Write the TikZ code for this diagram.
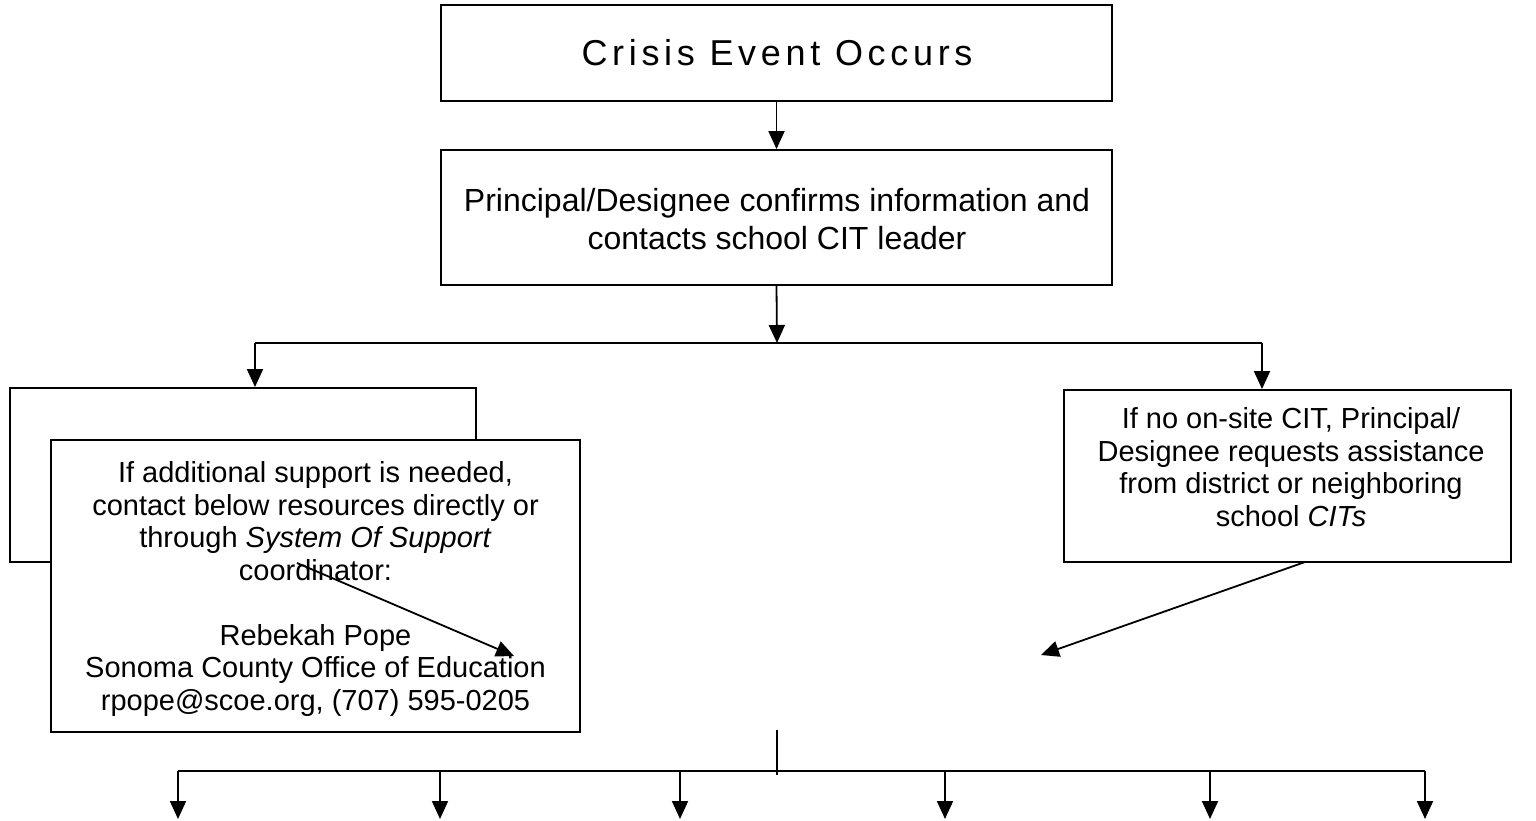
\documentclass[tikz,border=0pt]{standalone}
\usepackage{fontspec}
\setmainfont{Liberation Sans}
\newfontfamily\topfont[LetterSpace=13]{Liberation Sans}
\usetikzlibrary{arrows.meta}
\begin{document}
\begin{tikzpicture}[x=1pt,y=-1pt,
  box/.style={draw,line width=1.9pt,inner sep=0pt,align=center},
  txt/.style={align=center,inner sep=0pt,font=\fontsize{29}{32.5}\selectfont},
  arr/.style={line width=1.8pt,-{Triangle[length=18pt,width=16pt]}},
  ln/.style={line width=1.8pt}]
\useasboundingbox (0,0) rectangle (1536,820);
\fill[white] (0,0) rectangle (1536,820);
% top box
\node[box,minimum width=671pt,minimum height=96pt] (crisis) at (776.5,53) {};
\node[inner sep=0pt,font=\fontsize{36}{40}\selectfont\topfont] (crisisT) at (777,53) {Crisis Event Occurs};
% second box
\node[box,minimum width=671pt,minimum height=135pt] (confirm) at (776.5,217.5) {};
\node[txt,font=\fontsize{32}{38}\selectfont] (confirmT) at (777,219) {Principal/Designee confirms information and\\contacts school CIT leader};
% left back box
\node[box,minimum width=466pt,minimum height=174pt] (back) at (243,475) {};
% front box
\node[box,fill=white,minimum width=529pt,minimum height=292pt] (front) at (315.5,586) {};
\node[txt] (frontT) at (315.5,589) {If additional support is needed,\\contact below resources directly or\\through \textit{System Of Support}\\coordinator:\\[32.5pt]Rebekah Pope\\Sonoma County Office of Education\\rpope@scoe.org, (707) 595-0205};
% right box
\node[box,minimum width=447pt,minimum height=172pt] (right) at (1287.5,476) {};
\node[txt] (rightT) at (1291,467) {If no on-site CIT, Principal/\\Designee requests assistance\\from district or neighboring\\school \textit{CITs}};
% connectors top
\draw[arr] (crisis.south) -- (confirm.north);
\coordinate (j1) at (777,343);
\coordinate (jl) at (255,343);
\coordinate (jr) at (1262,343);
\draw[arr] (confirm.south) -- (j1);
\draw[ln] (jl) -- (jr);
\draw[arr] (jl) -- (jl |- back.north);
\draw[arr] (jr) -- (jr |- right.north);
% diagonal arrows
\coordinate (rs) at (1305,562);
\coordinate (re) at (1041,655);
\draw[arr] (rs) -- (re);
\coordinate (ls) at (297,563);
\coordinate (le) at (514,656);
\draw[arr] (ls) -- (le);
% bottom distribution
\coordinate (bt) at (777,730);
\coordinate (bb) at (777,775);
\draw[ln] (bt) -- (bb);
\coordinate (hl) at (178,771);
\coordinate (hr) at (1425,771);
\draw[ln] (hl) -- (hr);
\foreach \x/\n in {178/a,440/b,680/c,945/d,1210/e,1425/f}{
  \coordinate (s\n) at (\x,771);
  \coordinate (t\n) at (\x,819);
  \draw[arr] (s\n) -- (t\n);
}
\end{tikzpicture}
\end{document}
